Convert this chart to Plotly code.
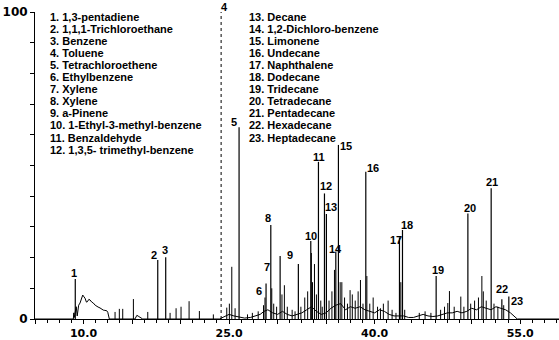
import plotly.graph_objects as go

# ---------------- data ----------------
peak_ids = [str(i) for i in range(1, 24)]
peak_rt = [9.15, 17.65, 18.47, 24.18, 26.03, 28.81, 30.26, 29.30, 32.14, 33.42,
           34.21, 34.83, 35.03, 36.00, 36.27, 39.09, 42.56, 42.87, 46.34, 49.61,
           52.01, 53.11, 53.83]
peak_h = [13.0, 19.2, 20.1, 100.0, 62.5, 11.6, 20.5, 30.6, 17.9, 25.4,
          51.2, 40.9, 34.2, 21.9, 56.7, 48.0, 26.6, 29.0, 14.0, 34.4,
          42.6, 6.4, 7.3]

minor_rt = [13.25, 13.69, 14.04, 15.14, 16.62, 18.92, 19.54, 20.05, 20.88, 21.94,
            23.38, 24.76, 25.03, 25.28, 25.62, 26.9, 27.4, 28.0, 28.55, 28.7,
            29.40, 29.6, 29.9, 30.45, 30.70, 31.0, 31.5, 31.8, 32.4, 32.8,
            33.1, 33.48, 33.6, 33.80, 34.0, 34.45, 34.6, 35.3, 35.6, 35.86,
            36.45, 36.62, 36.9, 37.2, 37.47, 37.7, 38.0, 38.3, 38.54, 38.8,
            39.2, 39.5, 39.85, 40.3, 40.6, 40.9, 41.39, 41.8, 42.2, 42.7,
            43.1, 44.6, 45.2, 45.8, 46.8, 47.2, 47.54, 47.71, 48.2, 48.88,
            49.2, 49.9, 50.3, 50.7, 51.05, 51.2, 51.5, 52.3, 52.7, 53.3]
minor_h = [2.3, 3.3, 3.3, 6.5, 2.3, 2.0, 3.5, 4.0, 5.8, 2.6,
           1.5, 3.7, 5.0, 17.0, 3.5, 1.5, 2.0, 2.5, 4.5, 7.0,
           10.0, 5.0, 4.0, 8.0, 11.0, 4.0, 3.0, 2.5, 4.0, 7.0,
           9.0, 21.5, 12.0, 17.9, 8.0, 6.0, 4.0, 6.0, 9.0, 16.0,
           12.0, 12.0, 7.0, 5.0, 9.4, 8.0, 6.0, 9.0, 12.7, 5.0,
           14.0, 5.0, 7.0, 4.0, 3.5, 5.0, 6.0, 3.0, 2.0, 12.0,
           3.0, 2.0, 2.5, 2.0, 3.0, 4.0, 5.2, 9.1, 4.0, 7.3,
           4.0, 5.0, 6.0, 7.0, 14.0, 9.0, 6.0, 5.0, 4.0, 4.5]

base_rt = [5.0, 8.95, 9.0, 9.05, 9.1, 9.25, 9.35, 9.5, 9.64, 9.8, 9.92, 10.05, 10.15,
           10.3, 10.39, 10.55, 10.67, 10.85, 11.01, 11.2, 11.36, 11.5, 11.70, 11.9,
           12.04, 12.2, 12.39, 12.5, 12.56, 12.66, 15.3, 15.5, 15.7, 15.9, 16.1,
           24.0, 24.3, 24.6, 25.0, 25.5, 26.2, 26.6, 27.2, 27.8, 28.2, 28.6, 29.0,
           29.5, 30.0, 30.5, 31.0, 31.5, 32.0, 32.5, 33.0, 33.5, 34.0, 34.5, 35.0,
           35.5, 36.0, 36.5, 37.0, 37.5, 38.0, 38.5, 39.0, 39.5, 40.0, 40.5, 41.0,
           41.5, 42.0, 42.5, 43.0, 43.5, 44.0, 44.5, 45.0, 45.5, 46.0, 46.5, 47.0,
           47.5, 48.0, 48.5, 49.0, 49.5, 50.0, 50.5, 51.0, 51.5, 52.0, 52.5, 53.0,
           53.5, 54.0, 54.4, 54.7, 59.0]
base_y = [0, 0, 2.0, 0.5, 1.5, 4.0, 1.0, 4.5, 5.2, 7.0, 7.8, 7.2, 6.8,
          5.5, 5.6, 6.4, 6.2, 5.5, 5.2, 4.5, 4.0, 3.9, 3.6, 3.1,
          2.9, 2.8, 2.7, 2.2, 1.3, 0, 0, 1.2, 0.8, 0.3, 0,
          0, 0.5, 1.0, 1.5, 1.0, 0.5, 0.3, 0.5, 1.0, 1.5, 2.5, 3.0,
          2.0, 1.5, 2.5, 1.5, 1.0, 1.5, 2.0, 3.0, 4.0, 2.5, 1.5, 2.0,
          3.5, 4.5, 5.0, 3.0, 4.0, 3.5, 4.0, 3.0, 2.5, 2.0, 3.0, 2.5,
          1.5, 1.0, 1.0, 1.0, 0.5, 0.5, 1.0, 1.5, 1.0, 0.8, 1.0, 1.5,
          2.0, 2.0, 2.5, 2.0, 2.5, 3.5, 3.0, 4.0, 3.5, 3.0, 4.0, 3.5,
          3.0, 2.0, 1.0, 0, 0]

col1_names = ["1. 1,3-pentadiene", "2. 1,1,1-Trichloroethane", "3. Benzene", "4. Toluene",
              "5. Tetrachloroethene", "6. Ethylbenzene", "7. Xylene", "8. Xylene",
              "9. a-Pinene", "10. 1-Ethyl-3-methyl-benzene", "11. Benzaldehyde",
              "12. 1,3,5- trimethyl-benzene"]
col2_names = ["13. Decane", "14. 1,2-Dichloro-benzene", "15. Limonene", "16. Undecane",
              "17. Naphthalene", "18. Dodecane", "19. Tridecane", "20. Tetradecane",
              "21. Pentadecane", "22. Hexadecane", "23. Heptadecane"]

x_tick_vals = [5, 10, 15, 20, 25, 30, 35, 40, 45, 50, 55]
x_tick_text = ["", "10.0", "", "", "25.0", "", "", "40.0", "", "", "55.0"]
y_tick_vals = [0, 10, 20, 30, 40, 50, 60, 70, 80, 90, 100]
y_tick_text = ["0", "", "", "", "", "", "", "", "", "", "100"]

# label offsets (pixels) relative to each peak top -- layout only
label_dx = [-1, -4, -1, 3, -5, -7, -13, -3, -8, 0, 1, 2, 5, 0, 8, 7, -3, 5, 2, 2, 1, 0, 8]
label_dy = [6.5, 5, 7, 5, 5, -8, -11, 7, 9, 5, 5, 7, 7, 3, -1, 4, -3, 5, 6, 5, 6, 10, -4]

# ---------------- figure ----------------
W, H = 559, 340
ML, MR, MT, MB = 35, 0, 12, 21


def spikes(xs, hs):
    sx, sy = [], []
    for x, h in zip(xs, hs):
        sx += [x, x, None]
        sy += [0, h, None]
    return sx, sy


fig = go.Figure()

fig.add_trace(go.Scatter(x=base_rt, y=base_y, mode="lines",
                         line=dict(color="black", width=1), hoverinfo="skip"))

mx, my = spikes(minor_rt, minor_h)
fig.add_trace(go.Scatter(x=mx, y=my, mode="lines",
                         line=dict(color="black", width=1), hoverinfo="skip"))

solid_idx = [i for i in range(len(peak_rt)) if i != 3]
px_, py_ = spikes([peak_rt[i] for i in solid_idx], [peak_h[i] for i in solid_idx])
fig.add_trace(go.Scatter(x=px_, y=py_, mode="lines",
                         line=dict(color="black", width=1.2), hoverinfo="skip"))

dx4, dy4 = spikes([peak_rt[3]], [peak_h[3]])
fig.add_trace(go.Scatter(x=dx4, y=dy4, mode="lines",
                         line=dict(color="black", width=1, dash="dot"), hoverinfo="skip"))

label_font = dict(family="Liberation Sans, Arial, sans-serif", size=11, color="black", weight="bold")
annotations = []
for pid, x, h, dx, dy in zip(peak_ids, peak_rt, peak_h, label_dx, label_dy):
    annotations.append(dict(x=x, y=h, xref="x", yref="y", text=pid, showarrow=False,
                            xanchor="center", yanchor="middle", xshift=dx, yshift=dy,
                            font=label_font))

plot_w = W - ML - MR
plot_h = H - MT - MB
legend_font = dict(family="Liberation Sans Narrow, Arial Narrow, Liberation Sans, sans-serif",
                   size=11, color="black", weight="bold")
row0, row_step = 17, 12.05
for col_x, names in ((48, col1_names), (247, col2_names)):
    for i, name in enumerate(names):
        py = row0 + i * row_step
        annotations.append(dict(x=(col_x - ML) / plot_w, y=(H - MB - py) / plot_h,
                                xref="paper", yref="paper", text=name, showarrow=False,
                                xanchor="left", yanchor="middle", font=legend_font))

fig.update_layout(
    width=W, height=H,
    margin=dict(l=ML, r=MR, t=MT, b=MB, pad=0, autoexpand=False),
    plot_bgcolor="white", paper_bgcolor="white",
    showlegend=False,
    annotations=annotations,
    xaxis=dict(range=[5, 59], showline=True, linecolor="black", linewidth=1,
               automargin=False,
               ticks="outside", tickvals=x_tick_vals, ticktext=x_tick_text,
               ticklen=4, tickwidth=1, tickcolor="black",
               minor=dict(ticks="outside", dtick=1.25, tick0=5, ticklen=3, tickcolor="black"),
               showgrid=False, zeroline=False,
               tickfont=dict(family="DejaVu Sans, sans-serif", size=11, color="black", weight="bold")),
    yaxis=dict(range=[0, 100], showline=True, linecolor="black", linewidth=1,
               automargin=False,
               ticks="outside", tickvals=y_tick_vals, ticktext=y_tick_text,
               ticklen=4, tickwidth=1, tickcolor="black",
               showgrid=False, zeroline=False,
               tickfont=dict(family="DejaVu Sans, sans-serif", size=12, color="black", weight="bold")),
)

fig.write_html("out.html")
